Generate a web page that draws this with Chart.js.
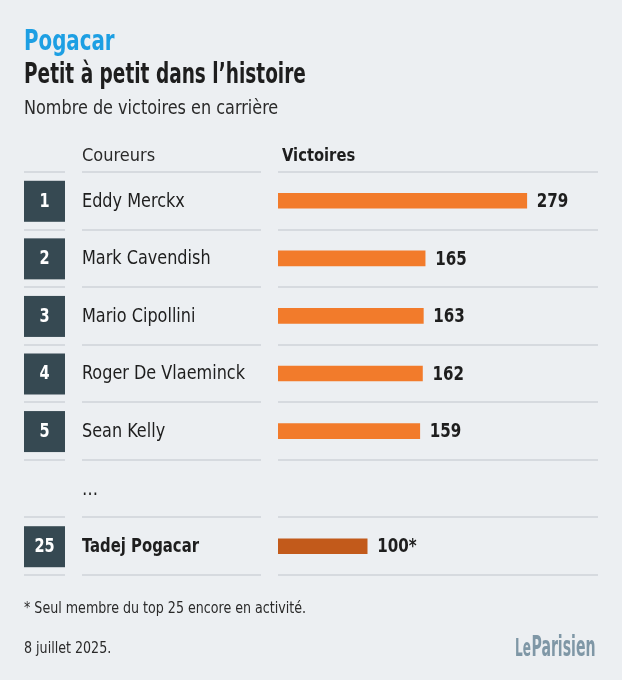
<!DOCTYPE html>
<html>
<head>
<meta charset="utf-8">
<script src="https://cdn.jsdelivr.net/npm/chart.js@4.4.1/dist/chart.umd.min.js"></script>
<style>
  html, body { margin: 0; padding: 0; background: #eceff2; }
  #wrap { position: relative; width: 622px; height: 680px; overflow: hidden; background: #eceff2;
    font-family: 'DejaVu Sans Condensed', 'DejaVu Sans', sans-serif; font-stretch: condensed; }
  #c { position: absolute; left: 0; top: 0; }
  .t { position: absolute; white-space: nowrap; transform-origin: 0 0; }
  #kicker { left: 24px; top: 23px; font-size: 29px; font-weight: bold; color: #1d9fe3; transform: scaleX(0.76); }
  #title { left: 24px; top: 56px; font-size: 29px; font-weight: bold; color: #1e1e1e; transform: scaleX(0.71); }
  #sub { left: 24px; top: 96px; font-size: 19px; color: #2a2a2a; transform: scaleX(0.94); }
  #h1 { left: 82px; top: 144px; font-size: 18px; color: #2a2a2a; }
  #h2 { left: 282px; top: 144px; font-size: 18px; font-weight: bold; color: #1e1e1e; transform: scaleX(0.91); }
  #note { left: 24px; top: 598px; font-size: 16px; color: #2a2a2a; transform: scaleX(0.88); }
  #date { left: 24px; top: 638px; font-size: 16px; color: #2a2a2a; transform: scaleX(0.88); }
  #logo { left: 515px; top: 630px; font-size: 28px; font-weight: bold; color: #7f97a6; transform: scaleX(0.56); }
  #logo small { font-size: 24px; margin-right: 1px; }
</style>
</head>
<body>
<div id="wrap">
  <canvas id="c" width="622" height="680"></canvas>
  <div class="t" id="kicker">Pogacar</div>
  <div class="t" id="title">Petit à petit dans l’histoire</div>
  <div class="t" id="sub">Nombre de victoires en carrière</div>
  <div class="t" id="h1">Coureurs</div>
  <div class="t" id="h2">Victoires</div>
  <div class="t" id="note">* Seul membre du top 25 encore en activité.</div>
  <div class="t" id="date">8 juillet 2025.</div>
  <div class="t" id="logo"><small>Le</small>Parisien</div>
</div>
<script>
const ranks = ['1', '2', '3', '4', '5', '', '25'];
const riders = ['Eddy Merckx', 'Mark Cavendish', 'Mario Cipollini', 'Roger De Vlaeminck', 'Sean Kelly', '…', 'Tadej Pogacar'];
const wins = [279, 165, 163, 162, 159, null, 100];
const valueLabels = ['279', '165', '163', '162', '159', '', '100*'];
const highlight = [false, false, false, false, false, false, true];

const FONT = "'DejaVu Sans Condensed', 'DejaVu Sans', sans-serif";

function squeezedText(ctx, text, x, y, sx) {
  ctx.save();
  ctx.translate(x, y);
  ctx.scale(sx, 1);
  ctx.fillText(text, 0, 0);
  ctx.restore();
}

const tablePlugin = {
  id: 'table',
  beforeDatasetsDraw(chart) {
    const ctx = chart.ctx;
    const y = chart.scales.y;
    const n = riders.length;
    const band = (y.getPixelForValue(1) - y.getPixelForValue(0));
    ctx.save();
    ctx.strokeStyle = '#d6dadf';
    ctx.lineWidth = 2;
    for (let i = 0; i <= n; i++) {
      const yy = Math.round(y.getPixelForValue(0) - band / 2 + i * band);
      [[24, 65], [82, 261], [278, 598]].forEach(([a, b]) => {
        ctx.beginPath(); ctx.moveTo(a, yy); ctx.lineTo(b, yy); ctx.stroke();
      });
    }
    for (let i = 0; i < n; i++) {
      const cy = y.getPixelForValue(i);
      if (ranks[i] !== '') {
        ctx.fillStyle = '#364952';
        ctx.fillRect(24, cy - 20, 41, 41);
        ctx.fillStyle = '#ffffff';
        ctx.font = 'bold 19px ' + FONT;
        ctx.textAlign = 'center';
        ctx.textBaseline = 'middle';
        ctx.save();
        ctx.translate(44.5, cy + 1);
        ctx.scale(0.85, 1);
        ctx.fillText(ranks[i], 0, 0);
        ctx.restore();
      }
      ctx.fillStyle = '#1e1e1e';
      ctx.textAlign = 'left';
      ctx.textBaseline = 'middle';
      if (highlight[i]) {
        ctx.font = 'bold 19px ' + FONT;
        squeezedText(ctx, riders[i], 82, cy + 1, 0.87);
      } else {
        ctx.font = '19px ' + FONT;
        squeezedText(ctx, riders[i], 82, cy + 1, 0.94);
      }
    }
    ctx.restore();
  },
  afterDatasetsDraw(chart) {
    const ctx = chart.ctx;
    const meta = chart.getDatasetMeta(0);
    ctx.save();
    ctx.fillStyle = '#1e1e1e';
    ctx.font = 'bold 20px ' + FONT;
    ctx.textAlign = 'left';
    ctx.textBaseline = 'middle';
    meta.data.forEach((bar, i) => {
      if (wins[i] == null) return;
      squeezedText(ctx, valueLabels[i], bar.x + 10, bar.y + 1, 0.84);
    });
    ctx.restore();
  }
};

new Chart(document.getElementById('c'), {
  type: 'bar',
  data: {
    labels: riders,
    datasets: [{
      data: wins,
      backgroundColor: highlight.map(h => h ? '#c25a1b' : '#f27b2b'),
      borderWidth: 0,
      barThickness: 15
    }]
  },
  options: {
    indexAxis: 'y',
    responsive: false,
    animation: false,
    devicePixelRatio: 1,
    layout: { padding: { left: 278, right: 23, top: 172, bottom: 105 } },
    scales: {
      x: { display: false, min: 0, max: 360 },
      y: { display: false, offset: true }
    },
    plugins: { legend: { display: false }, tooltip: { enabled: false } }
  },
  plugins: [tablePlugin]
});
</script>
</body>
</html>
